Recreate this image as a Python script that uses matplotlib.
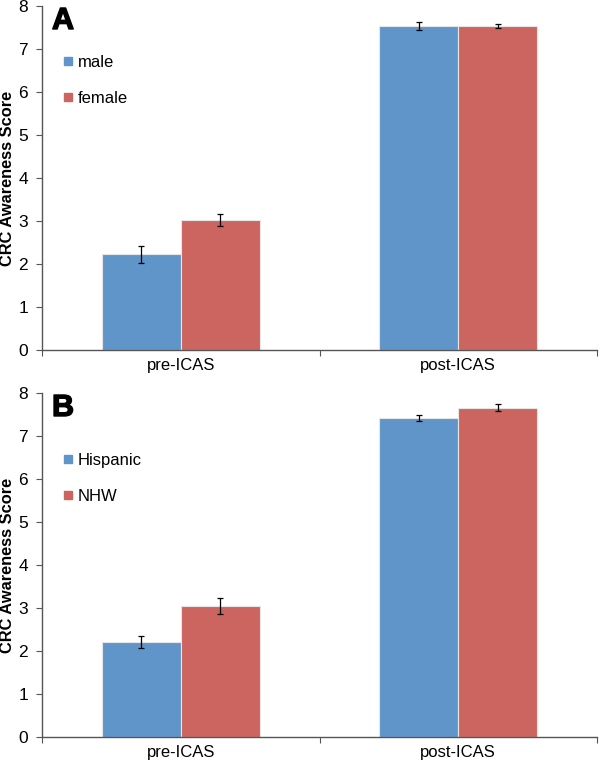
import numpy as np
import matplotlib
matplotlib.use("Agg")
import matplotlib.pyplot as plt
import matplotlib.patheffects as pe
from matplotlib.lines import Line2D

plt.rcParams['font.family'] = ['Liberation Sans', 'DejaVu Sans']

categories = ["pre-ICAS", "post-ICAS"]

# panel A: gender
a_labels = ["male", "female"]
a_male = [2.23, 7.53]
a_male_err = [0.20, 0.09]
a_female = [3.03, 7.53]
a_female_err = [0.14, 0.05]

# panel B: ethnicity
b_labels = ["Hispanic", "NHW"]
b_hisp = [2.22, 7.41]
b_hisp_err = [0.14, 0.07]
b_nhw = [3.05, 7.66]
b_nhw_err = [0.18, 0.08]

blue = "#6095c9"
red = "#cc6560"
fontsize = 12


def draw_panel(ax, vals1, err1, vals2, err2, labels, letter, leg_y):
    x = np.arange(len(categories))
    w = 0.285
    ekw = dict(ecolor="black", elinewidth=0.9, capsize=2.5, capthick=0.9)
    ax.bar(x - w / 2, vals1, w, color=blue, edgecolor="#e6e6e6", linewidth=0.8,
           yerr=err1, error_kw=ekw)
    ax.bar(x + w / 2, vals2, w, color=red, edgecolor="#e6e6e6", linewidth=0.8,
           yerr=err2, error_kw=ekw)
    ax.set_xlim(-0.5, 1.5)
    ax.set_ylim(0, 8)
    ax.set_yticks(range(0, 9))
    ax.set_xticks([-0.5, 0.5, 1.5])
    ax.set_xticklabels([])
    ax.set_xticks(x, minor=True)
    ax.set_xticklabels(categories, minor=True, fontsize=fontsize)
    ax.tick_params(axis="x", which="minor", length=0, pad=6)
    ax.tick_params(axis="x", which="major", length=4, color="#555555")
    ax.tick_params(axis="y", length=4, color="#555555", labelsize=fontsize + 0.5, pad=6)
    for s in ["top", "right"]:
        ax.spines[s].set_visible(False)
    for s in ["left", "bottom"]:
        ax.spines[s].set_color("#555555")
        ax.spines[s].set_linewidth(1.0)
    ax.set_ylabel("CRC Awareness Score", fontsize=11.8, fontweight="bold")
    ax.yaxis.set_label_coords(-0.048, 0.5)
    handles = [Line2D([], [], marker="s", color=c, linestyle="none", markersize=6)
               for c in [blue, red]]
    ax.legend(handles, labels, loc="upper left", bbox_to_anchor=(0.025, leg_y),
              frameon=False, fontsize=fontsize, labelspacing=1.3,
              handlelength=0.6, handletextpad=0.3, borderaxespad=0)
    ax.text(0.018, 1.0, letter, transform=ax.transAxes, fontsize=22,
            fontweight="heavy", va="top", ha="left",
            path_effects=[pe.withStroke(linewidth=1.0, foreground="black")])


fig = plt.figure(figsize=(6, 7.67), dpi=100)
ax1 = fig.add_axes([42 / 600, 1 - 350 / 767, 555 / 600, 344 / 767])
ax2 = fig.add_axes([42 / 600, 1 - 737 / 767, 555 / 600, 344 / 767])

draw_panel(ax1, a_male, a_male_err, a_female, a_female_err, a_labels, "A", 0.878)
draw_panel(ax2, b_hisp, b_hisp_err, b_nhw, b_nhw_err, b_labels, "B", 0.846)

fig.savefig("out.png", dpi=100)
